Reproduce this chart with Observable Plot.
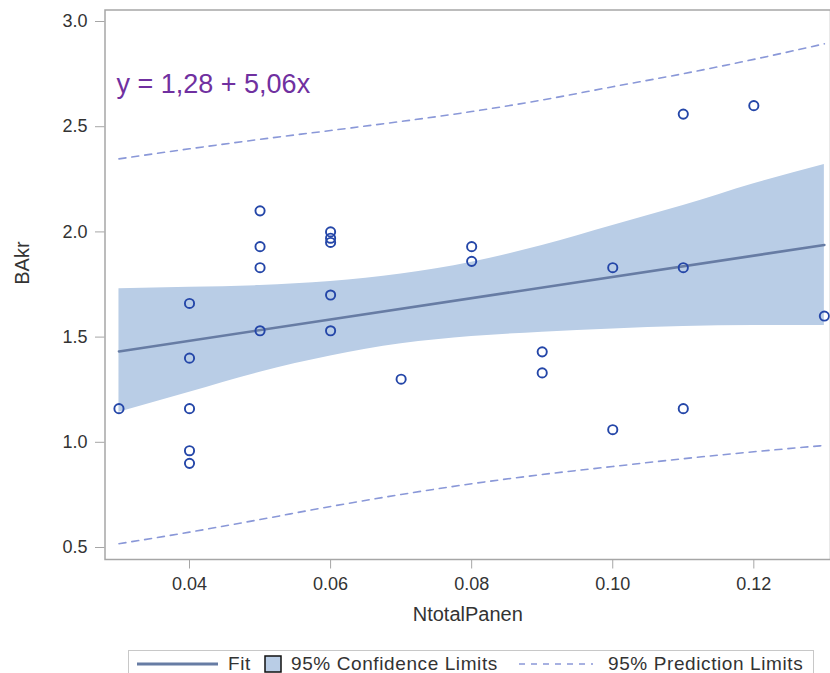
<!DOCTYPE html>
<html>
<head>
<meta charset="utf-8">
<script src="https://cdn.jsdelivr.net/npm/d3@7"></script>
<script src="https://cdn.jsdelivr.net/npm/@observablehq/plot@0.6"></script>
<style>
  html, body { margin: 0; padding: 0; background: #fff; overflow: hidden; }
  #wrap { position: relative; width: 830px; height: 673px; font-family: "Liberation Sans", Arial, sans-serif; }
  #legend { position: absolute; left: 128px; top: 650px; width: 686px; height: 30px;
            border: 1px solid #c8c8c8; box-sizing: border-box; background: #fff; }
  #legend .it { position: absolute; top: 0; height: 26px; line-height: 26px; font-size: 19px; color: #333; letter-spacing: 0.6px; white-space: nowrap; }
  #legend svg { position: absolute; top: 0; }
</style>
</head>
<body>
<div id="wrap"></div>
<script>
// ---- data ----
const pointX = [0.03, 0.04, 0.04, 0.04, 0.04, 0.04, 0.05, 0.05, 0.05, 0.05, 0.06, 0.06, 0.06, 0.06, 0.06, 0.07, 0.08, 0.08, 0.09, 0.09, 0.10, 0.10, 0.11, 0.11, 0.11, 0.12, 0.13];
const pointY = [1.16, 1.66, 1.40, 1.16, 0.96, 0.90, 2.10, 1.93, 1.83, 1.53, 2.00, 1.97, 1.95, 1.70, 1.53, 1.30, 1.93, 1.86, 1.43, 1.33, 1.83, 1.06, 2.56, 1.83, 1.16, 2.60, 1.60];

const fitX = [0.03, 0.13];
const fitY = [1.432, 1.938];

const bandX = [0.03, 0.04, 0.05, 0.06, 0.07, 0.08, 0.09, 0.10, 0.11, 0.12, 0.13];
const confLow  = [1.143, 1.238, 1.333, 1.410, 1.468, 1.503, 1.523, 1.539, 1.550, 1.555, 1.555];
const confHigh = [1.730, 1.737, 1.745, 1.764, 1.800, 1.856, 1.935, 2.030, 2.125, 2.229, 2.320];
const predLow  = [0.518, 0.573, 0.633, 0.695, 0.752, 0.803, 0.847, 0.885, 0.922, 0.955, 0.985];
const predHigh = [2.347, 2.395, 2.440, 2.482, 2.525, 2.572, 2.627, 2.690, 2.752, 2.820, 2.894];

const xTicks = [0.04, 0.06, 0.08, 0.10, 0.12];
const yTicks = [0.5, 1.0, 1.5, 2.0, 2.5, 3.0];

const xLabel = "NtotalPanen";
const yLabel = "BAkr";
const equation = "y = 1,28 + 5,06x";
const legendLabels = ["Fit", "95% Confidence Limits", "95% Prediction Limits"];

// ---- tables ----
const points = pointX.map((x, i) => ({x, y: pointY[i]}));
const fit = fitX.map((x, i) => ({x, y: fitY[i]}));
const band = bandX.map((x, i) => ({x, lo: confLow[i], hi: confHigh[i], plo: predLow[i], phi: predHigh[i]}));

const C = {
  band: "#b9cde6",
  fit: "#677ca4",
  pred: "#8a98d8",
  dot: "#2446a8",
  frame: "#a6a6a6",
  text: "#333333",
  eq: "#7030a0"
};

const chart = Plot.plot({
  width: 830,
  height: 645,
  marginTop: 9.5,
  marginBottom: 86,
  marginLeft: 104.5,
  marginRight: 0,
  style: {fontFamily: "'Liberation Sans', Arial, sans-serif", color: C.text, background: "#fff", overflow: "visible"},
  x: {domain: [0.02802, 0.13087]},
  y: {domain: [0.443, 3.0547]},
  marks: [
    Plot.areaY(band, {x: "x", y1: "lo", y2: "hi", fill: C.band, fillOpacity: 1, curve: "monotone-x"}),
    Plot.lineY(band, {x: "x", y: "phi", stroke: C.pred, strokeWidth: 1.6, strokeDasharray: "7,6", curve: "monotone-x"}),
    Plot.lineY(band, {x: "x", y: "plo", stroke: C.pred, strokeWidth: 1.6, strokeDasharray: "7,6", curve: "monotone-x"}),
    Plot.line(fit, {x: "x", y: "y", stroke: C.fit, strokeWidth: 2.6}),
    Plot.dot(points, {x: "x", y: "y", r: 4.6, stroke: C.dot, strokeWidth: 1.9, fill: "none"}),
    Plot.frame({stroke: C.frame, strokeWidth: 1.5}),
    Plot.axisX({ticks: xTicks, tickFormat: d3.format(".2f"), tickSize: 9.5, tickPadding: 8, stroke: C.frame, fontSize: 18, label: null, letterSpacing: "0.7px"}),
    Plot.axisY({ticks: yTicks, tickFormat: d3.format(".1f"), tickSize: 9.5, tickPadding: 8, stroke: C.frame, fontSize: 18, label: null, letterSpacing: "0.7px"}),
    Plot.text([xLabel], {frameAnchor: "bottom", dy: 61, text: d => d, fontSize: 20, fill: C.text, letterSpacing: "0.5px"}),
    Plot.text([yLabel], {frameAnchor: "left", dx: -82.5, rotate: -90, text: d => d, fontSize: 20, fill: C.text, letterSpacing: "0.5px"}),
    Plot.text([equation], {frameAnchor: "top-left", dx: 11.5, dy: 64, textAnchor: "start", text: d => d, fontSize: 27, fill: C.eq, letterSpacing: "1px"})
  ]
});

const wrap = document.getElementById("wrap");
wrap.appendChild(chart);

// ---- legend (below the SVG) ----
const legend = document.createElement("div");
legend.id = "legend";
legend.innerHTML = `
  <svg style="left:7px" width="83" height="26"><line x1="1" x2="82" y1="13" y2="13" stroke="${C.fit}" stroke-width="3"/></svg>
  <div class="it" style="left:99px">${legendLabels[0]}</div>
  <svg style="left:135px" width="18" height="26"><rect x="1" y="5" width="16" height="16" fill="${C.band}" stroke="#111" stroke-width="1.5"/></svg>
  <div class="it" style="left:162px">${legendLabels[1]}</div>
  <svg style="left:389px" width="76" height="26"><line x1="1" x2="75" y1="13" y2="13" stroke="${C.pred}" stroke-width="1.5" stroke-dasharray="6,6"/></svg>
  <div class="it" style="left:479px">${legendLabels[2]}</div>`;
wrap.appendChild(legend);
</script>
</body>
</html>
